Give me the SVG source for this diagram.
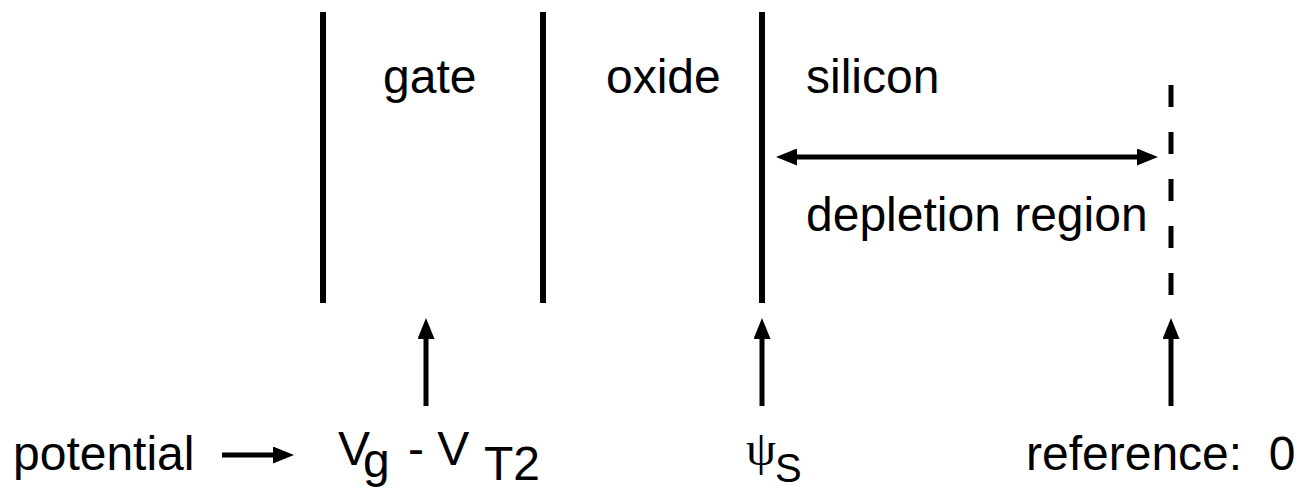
<svg xmlns="http://www.w3.org/2000/svg" width="1307" height="489" viewBox="0 0 1307 489">
<style>
.t{font-family:"Liberation Sans",Arial,sans-serif;font-size:48px;fill:#000}
.wall{stroke:#000;stroke-width:6;fill:none}
.conn{stroke:#000;stroke-width:5;fill:none}
</style>
<defs>
<marker id="ah" markerUnits="userSpaceOnUse" viewBox="0 0 21 17" refX="0" refY="8.5" markerWidth="21" markerHeight="17" orient="auto-start-reverse">
<path d="M0,0 L21,8.5 L0,17 z" fill="#000"/>
</marker>
</defs>
<rect width="1307" height="489" fill="#fff"/>
<g id="gate-wall"><line class="wall" x1="323" y1="12" x2="323" y2="303"/></g>
<g id="oxide-wall"><line class="wall" x1="543" y1="12" x2="543" y2="303"/></g>
<g id="silicon-wall"><line class="wall" x1="762" y1="12" x2="762" y2="303"/></g>
<g id="depletion-edge"><line class="conn" x1="1171" y1="85" x2="1171" y2="296" stroke-dasharray="22 25"/></g>
<g id="gate-label"><text class="t" x="383" y="93">gate</text></g>
<g id="oxide-label"><text class="t" x="606" y="93">oxide</text></g>
<g id="silicon-label"><text class="t" x="806" y="93">silicon</text></g>
<g id="depletion-label"><text class="t" x="806" y="231">depletion region</text></g>
<g id="potential-label"><text class="t" x="13" y="470">potential</text></g>
<g id="vg-label"><text class="t" x="338" y="465">V<tspan x="363" y="477">g</tspan><tspan x="408" y="465">- V</tspan><tspan x="484" y="480">T2</tspan></text></g>
<g id="psi-label"><text x="746" y="465" style="font-family:'Liberation Serif','Times New Roman',serif;font-size:48px">ψ</text><text class="t" x="775" y="482" style="font-size:40px">S</text></g>
<g id="reference-label"><text class="t" x="1026" y="470" xml:space="preserve">reference:  0</text></g>
<g id="connectors">
<line class="conn" x1="797" y1="157" x2="1137" y2="157" marker-start="url(#ah)" marker-end="url(#ah)"/>
<line class="conn" x1="222" y1="455" x2="273" y2="455" marker-end="url(#ah)"/>
<line class="conn" x1="426" y1="406" x2="426" y2="339" stroke-width="6" marker-end="url(#ah)"/>
<line class="conn" x1="762" y1="406" x2="762" y2="339" stroke-width="6" marker-end="url(#ah)"/>
<line class="conn" x1="1171" y1="406" x2="1171" y2="339" stroke-width="6" marker-end="url(#ah)"/>
</g>
</svg>
